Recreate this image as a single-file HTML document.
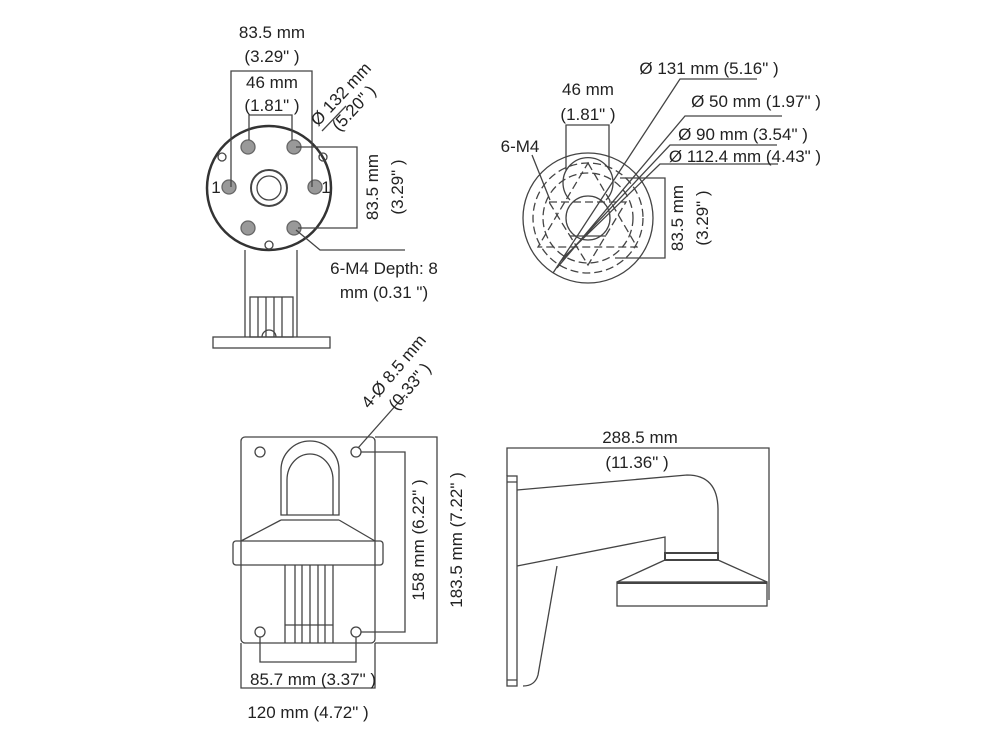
<!DOCTYPE html>
<html><head><meta charset="utf-8"><style>
html,body{margin:0;padding:0;background:#fff;}
svg{display:block}
text{font-family:"Liberation Sans",sans-serif;font-size:17px;fill:#222;}
</style></head><body>
<svg width="1000" height="750" viewBox="0 0 1000 750" xmlns="http://www.w3.org/2000/svg">
<g fill="none" stroke="#444" stroke-width="1.3">
<!-- TOP LEFT -->
<circle cx="269" cy="188" r="62" stroke-width="2.5" stroke="#333"/>
<g fill="#999" stroke="#666">
<circle cx="248" cy="147" r="7"/><circle cx="294" cy="147" r="7"/>
<circle cx="229" cy="187" r="7"/><circle cx="315" cy="187" r="7"/>
<circle cx="248" cy="228" r="7"/><circle cx="294" cy="228" r="7"/>
</g>
<circle cx="222" cy="157" r="4"/><circle cx="323" cy="157" r="4"/><circle cx="269" cy="245" r="4"/>
<circle cx="269" cy="188" r="18" stroke-width="2"/><circle cx="269" cy="188" r="12"/>
<path d="M231 187V71H312V187"/>
<path d="M249 140V115H292V140"/>
<path d="M296 147H357V228H298"/>
<path d="M322 131L346 106"/>
<path d="M296 230L320 250H405"/>
<path d="M245 250V337M297 250V337"/>
<rect x="250" y="297" width="43" height="40"/>
<path d="M258 297V337M266 297V337M274 297V337M282 297V337"/>
<rect x="213" y="337" width="117" height="11"/>
<path d="M262 337a7 7 0 0 1 14 0"/>
<!-- TOP RIGHT -->
<circle cx="588" cy="218" r="65"/>
<circle cx="588" cy="218" r="55" stroke-dasharray="8 4"/>
<circle cx="588" cy="218" r="45" stroke-dasharray="8 4"/>
<path d="M588 163L637 247H538Z M549 202H626L588 265Z" stroke-dasharray="8 4"/>
<path d="M570 200a25 25 0 1 1 36 0 M570 236h36"/>
<circle cx="588" cy="218" r="22"/>
<path d="M566 170V125H609V170"/>
<path d="M620 178H665V258H615"/>
<path d="M532 155L550 200"/>
<path d="M553 273L680 79H757M557 268L685 116H782M560 262L670 145H777M563 258L660 164H778"/>
<!-- BOTTOM LEFT -->
<rect x="241" y="437" width="134" height="206" rx="4"/>
<circle cx="260" cy="452" r="5"/><circle cx="356" cy="452" r="5"/>
<circle cx="260" cy="632" r="5"/><circle cx="356" cy="632" r="5"/>
<path d="M281 515V470a29 29 0 0 1 58 0V515Z"/>
<path d="M287 515V480a23 26 0 0 1 46 0V515"/>
<path d="M281 520L241 541M339 520L375 541 M281 520H339"/>
<rect x="233" y="541" width="150" height="24" rx="3"/>
<path d="M285 565V643M333 565V643M295 565V643M302 565V643M310 565V643M318 565V643M325 565V643M285 625H333"/>
<path d="M361 452H405V632H361"/>
<path d="M375 437H437V643H375"/>
<path d="M260 637V662H356V637"/>
<path d="M241 643V688H375V643"/>
<path d="M358 448L405 395"/>
<!-- BOTTOM RIGHT -->
<rect x="507" y="476" width="10" height="210"/>
<path d="M507 680h10M507 482h10"/>
<path d="M507 476V448H769V600"/>
<path d="M517 490L687 475Q718 475 718 510V553"/>
<path d="M517 566L665 537V553"/>
<rect x="665" y="553" width="53" height="7" stroke-width="2"/>
<path d="M665 560L617 582M718 560L767 582"/>
<rect x="617" y="582" width="150" height="24"/>
<path d="M617 583H767" stroke-width="2"/>
<path d="M557 566L538 675Q535 686 523 686"/>
</g>
<g text-anchor="middle">
<text x="272" y="38">83.5 mm</text><text x="272" y="62">(3.29" )</text>
<text x="272" y="88">46 mm</text><text x="272" y="111">(1.81" )</text>
<text transform="translate(345,98) rotate(-47)">Ø 132 mm</text>
<text transform="translate(358,112) rotate(-47)">(5.20" )</text>
<text transform="translate(378,187) rotate(-90)">83.5 mm</text>
<text transform="translate(403,187) rotate(-90)">(3.29" )</text>
<text x="384" y="274">6-M4 Depth: 8</text><text x="384" y="298">mm (0.31 ")</text>
<text x="216" y="193" font-size="11">1</text><text x="326" y="193" font-size="11">1</text>
<text x="588" y="95">46 mm</text><text x="588" y="120">(1.81" )</text>
<text x="520" y="152">6-M4</text>
<text x="709" y="74">Ø 131 mm (5.16" )</text>
<text x="756" y="107">Ø 50 mm (1.97" )</text>
<text x="743" y="140">Ø 90 mm (3.54" )</text>
<text x="745" y="162">Ø 112.4 mm (4.43" )</text>
<text transform="translate(683,218) rotate(-90)">83.5 mm</text>
<text transform="translate(708,218) rotate(-90)">(3.29" )</text>
<text transform="translate(398,375) rotate(-50)">4-Ø 8.5 mm</text>
<text transform="translate(414,390) rotate(-50)">(0.33" )</text>
<text transform="translate(424,540) rotate(-90)">158 mm (6.22" )</text>
<text transform="translate(462,540) rotate(-90)">183.5 mm (7.22" )</text>
<text x="313" y="685">85.7 mm (3.37" )</text>
<text x="308" y="718">120 mm (4.72" )</text>
<text x="640" y="443">288.5 mm</text>
<text x="637" y="468">(11.36" )</text>
</g>
</svg>
</body></html>
